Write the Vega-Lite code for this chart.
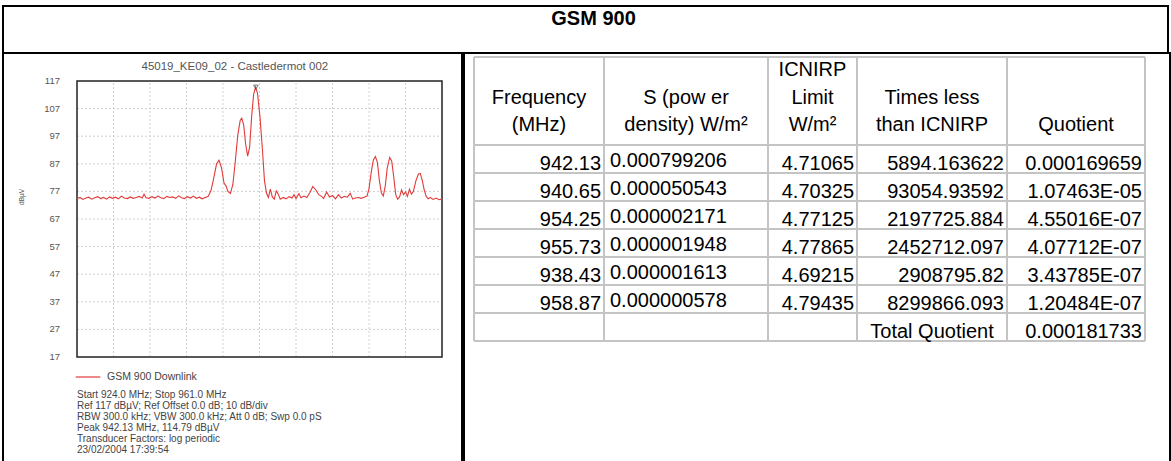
{
  "$schema": "https://vega.github.io/schema/vega-lite/v6.json",
  "background": "white",
  "padding": {"left": 2, "top": 5, "right": 2, "bottom": 0},
  "bounds": "flush",
  "spacing": 0,
  "config": {"view": {"stroke": null}, "font": "Liberation Sans"},
  "datasets": {
    "trace": [
      {"f":924.0,"db":74.3},{"f":924.3,"db":74.8},{"f":924.6,"db":74.1},{"f":924.9,"db":74.6},{"f":925.2,"db":74.9},{"f":925.5,"db":74.2},{"f":925.8,"db":74.7},{"f":926.1,"db":75.1},{"f":926.4,"db":74.4},{"f":926.7,"db":74.8},{"f":927.0,"db":74.2},{"f":927.3,"db":75.0},{"f":927.6,"db":74.5},{"f":927.9,"db":74.9},{"f":928.2,"db":74.3},{"f":928.5,"db":75.3},{"f":928.8,"db":74.6},{"f":929.1,"db":74.4},{"f":929.4,"db":75.0},{"f":929.7,"db":74.5},{"f":930.0,"db":74.8},{"f":930.3,"db":75.2},{"f":930.6,"db":74.6},{"f":930.8,"db":76.0},{"f":931.0,"db":74.7},{"f":931.3,"db":74.5},{"f":931.6,"db":75.1},{"f":931.9,"db":74.6},{"f":932.2,"db":75.3},{"f":932.5,"db":74.7},{"f":932.8,"db":74.4},{"f":933.1,"db":75.2},{"f":933.4,"db":74.8},{"f":933.7,"db":75.0},{"f":934.0,"db":74.5},{"f":934.3,"db":75.4},{"f":934.6,"db":74.7},{"f":934.9,"db":74.4},{"f":935.2,"db":75.1},{"f":935.5,"db":74.6},{"f":935.8,"db":75.3},{"f":936.1,"db":74.5},{"f":936.4,"db":74.9},{"f":936.7,"db":74.3},{"f":937.0,"db":74.8},{"f":937.3,"db":75.2},{"f":937.6,"db":77.5},{"f":937.9,"db":82.5},{"f":938.15,"db":87.0},{"f":938.4,"db":88.3},{"f":938.65,"db":85.5},{"f":938.9,"db":80.0},{"f":939.1,"db":79.0},{"f":939.3,"db":77.0},{"f":939.55,"db":76.2},{"f":939.8,"db":79.5},{"f":940.05,"db":88.0},{"f":940.3,"db":97.5},{"f":940.55,"db":102.8},{"f":940.7,"db":103.5},{"f":940.9,"db":101.0},{"f":941.1,"db":94.0},{"f":941.3,"db":89.8},{"f":941.5,"db":93.0},{"f":941.7,"db":104.0},{"f":941.9,"db":112.0},{"f":942.1,"db":114.8},{"f":942.3,"db":112.5},{"f":942.55,"db":104.0},{"f":942.8,"db":92.0},{"f":943.0,"db":81.0},{"f":943.2,"db":76.5},{"f":943.4,"db":74.8},{"f":943.6,"db":77.8},{"f":943.8,"db":75.0},{"f":944.0,"db":74.2},{"f":944.2,"db":77.2},{"f":944.4,"db":76.0},{"f":944.6,"db":74.2},{"f":944.9,"db":74.8},{"f":945.2,"db":74.3},{"f":945.5,"db":75.1},{"f":945.8,"db":74.6},{"f":946.0,"db":75.8},{"f":946.2,"db":74.4},{"f":946.5,"db":76.2},{"f":946.7,"db":74.7},{"f":947.0,"db":75.3},{"f":947.3,"db":74.8},{"f":947.6,"db":76.5},{"f":947.9,"db":78.8},{"f":948.2,"db":77.6},{"f":948.5,"db":75.8},{"f":948.8,"db":75.2},{"f":949.0,"db":74.4},{"f":949.3,"db":76.8},{"f":949.6,"db":75.0},{"f":949.9,"db":75.5},{"f":950.2,"db":74.3},{"f":950.5,"db":75.8},{"f":950.8,"db":74.6},{"f":951.1,"db":75.2},{"f":951.4,"db":74.9},{"f":951.7,"db":76.3},{"f":951.95,"db":74.2},{"f":952.2,"db":74.6},{"f":952.5,"db":74.8},{"f":952.8,"db":74.5},{"f":953.1,"db":74.9},{"f":953.4,"db":75.3},{"f":953.6,"db":78.0},{"f":953.85,"db":84.5},{"f":954.05,"db":88.5},{"f":954.25,"db":89.6},{"f":954.45,"db":87.5},{"f":954.65,"db":81.0},{"f":954.85,"db":76.5},{"f":955.05,"db":75.3},{"f":955.25,"db":79.0},{"f":955.45,"db":85.5},{"f":955.7,"db":89.3},{"f":955.9,"db":88.0},{"f":956.1,"db":82.5},{"f":956.3,"db":76.0},{"f":956.5,"db":74.2},{"f":956.7,"db":75.0},{"f":956.9,"db":77.5},{"f":957.1,"db":75.8},{"f":957.3,"db":76.8},{"f":957.5,"db":75.2},{"f":957.7,"db":77.8},{"f":957.9,"db":76.0},{"f":958.1,"db":77.0},{"f":958.35,"db":80.8},{"f":958.6,"db":83.2},{"f":958.8,"db":83.5},{"f":959.0,"db":81.0},{"f":959.2,"db":77.5},{"f":959.4,"db":75.2},{"f":959.6,"db":74.3},{"f":959.8,"db":74.8},{"f":960.1,"db":74.1},{"f":960.4,"db":74.6},{"f":960.7,"db":74.0},{"f":961.0,"db":74.3}
    ],
    "ticks": [{"v":17},{"v":27},{"v":37},{"v":47},{"v":57},{"v":67},{"v":77},{"v":87},{"v":97},{"v":107},{"v":117}],
    "table": [
      {"c":0,"slot":1,"t":"Frequency","a":"center"},{"c":0,"slot":2,"t":"(MHz)","a":"center"},
      {"c":1,"slot":1,"t":"S (pow er","a":"center"},{"c":1,"slot":2,"t":"density) W/m²","a":"center"},
      {"c":2,"slot":0,"t":"ICNIRP","a":"center"},{"c":2,"slot":1,"t":"Limit","a":"center"},{"c":2,"slot":2,"t":"W/m²","a":"center"},
      {"c":3,"slot":1,"t":"Times less","a":"center"},{"c":3,"slot":2,"t":"than ICNIRP","a":"center"},
      {"c":4,"slot":2,"t":"Quotient","a":"center"},
      {"c":0,"slot":3,"t":"942.13","a":"right"},{"c":1,"slot":3,"t":"0.000799206","a":"left"},{"c":2,"slot":3,"t":"4.71065","a":"right"},{"c":3,"slot":3,"t":"5894.163622","a":"right"},{"c":4,"slot":3,"t":"0.000169659","a":"right"},
      {"c":0,"slot":4,"t":"940.65","a":"right"},{"c":1,"slot":4,"t":"0.000050543","a":"left"},{"c":2,"slot":4,"t":"4.70325","a":"right"},{"c":3,"slot":4,"t":"93054.93592","a":"right"},{"c":4,"slot":4,"t":"1.07463E-05","a":"right"},
      {"c":0,"slot":5,"t":"954.25","a":"right"},{"c":1,"slot":5,"t":"0.000002171","a":"left"},{"c":2,"slot":5,"t":"4.77125","a":"right"},{"c":3,"slot":5,"t":"2197725.884","a":"right"},{"c":4,"slot":5,"t":"4.55016E-07","a":"right"},
      {"c":0,"slot":6,"t":"955.73","a":"right"},{"c":1,"slot":6,"t":"0.000001948","a":"left"},{"c":2,"slot":6,"t":"4.77865","a":"right"},{"c":3,"slot":6,"t":"2452712.097","a":"right"},{"c":4,"slot":6,"t":"4.07712E-07","a":"right"},
      {"c":0,"slot":7,"t":"938.43","a":"right"},{"c":1,"slot":7,"t":"0.000001613","a":"left"},{"c":2,"slot":7,"t":"4.69215","a":"right"},{"c":3,"slot":7,"t":"2908795.82","a":"right"},{"c":4,"slot":7,"t":"3.43785E-07","a":"right"},
      {"c":0,"slot":8,"t":"958.87","a":"right"},{"c":1,"slot":8,"t":"0.000000578","a":"left"},{"c":2,"slot":8,"t":"4.79435","a":"right"},{"c":3,"slot":8,"t":"8299866.093","a":"right"},{"c":4,"slot":8,"t":"1.20484E-07","a":"right"},
      {"c":3,"slot":9,"t":"Total Quotient","a":"center"},{"c":4,"slot":9,"t":"0.000181733","a":"right"}
    ]
  },
  "vconcat": [
    {
      "width": 1165,
      "height": 47,
      "view": {"stroke": "black", "strokeWidth": 2},
      "data": {"values": [{"label": "GSM 900"}]},
      "mark": {"type": "text", "fontWeight": "bold", "fontSize": 20, "baseline": "middle", "dx": 8, "dy": -11, "color": "black"},
      "encoding": {"text": {"field": "label"}}
    },
    {
      "spacing": 0,
      "hconcat": [
        {
          "width": 459,
          "height": 412,
          "view": {"stroke": "black", "strokeWidth": 2},
          "layer": [
            {
              "data": {"values": [{"g":927.7},{"g":931.4},{"g":935.1},{"g":938.8},{"g":942.5},{"g":946.2},{"g":949.9},{"g":953.6},{"g":957.3}]},
              "mark": {"type": "rule", "stroke": "#d0d0d0", "strokeDash": [2, 2], "strokeWidth": 1},
              "encoding": {
                "x": {"field": "g", "type": "quantitative", "scale": {"domain": [924, 961], "range": [74, 439], "nice": false, "zero": false}, "axis": null},
                "y": {"datum": 17, "scale": {"domain": [17, 117], "range": [304, 28], "nice": false, "zero": false}, "axis": null},
                "y2": {"datum": 117}
              }
            },
            {
              "data": {"name": "ticks"},
              "transform": [{"filter": "datum.v > 17 && datum.v < 117"}],
              "mark": {"type": "rule", "stroke": "#d0d0d0", "strokeDash": [2, 2], "strokeWidth": 1},
              "encoding": {
                "y": {"field": "v", "type": "quantitative", "scale": {"domain": [17, 117], "range": [304, 28], "nice": false, "zero": false}, "axis": null},
                "x": {"datum": 924, "scale": {"domain": [924, 961], "range": [74, 439], "nice": false, "zero": false}, "axis": null},
                "x2": {"datum": 961}
              }
            },
            {
              "data": {"values": [{}]},
              "mark": {"type": "rect", "filled": false, "stroke": "#222", "strokeWidth": 1.5},
              "encoding": {
                "x": {"datum": 924, "scale": {"domain": [924, 961], "range": [74, 439], "nice": false, "zero": false}, "axis": null},
                "x2": {"datum": 961},
                "y": {"datum": 17, "scale": {"domain": [17, 117], "range": [304, 28], "nice": false, "zero": false}, "axis": null},
                "y2": {"datum": 117}
              }
            },
            {
              "data": {"name": "trace"},
              "mark": {"type": "line", "strokeWidth": 1.1},
              "encoding": {
                "x": {"field": "f", "type": "quantitative", "scale": {"domain": [924, 961], "range": [74, 439], "nice": false, "zero": false}, "axis": null},
                "y": {"field": "db", "type": "quantitative", "scale": {"domain": [17, 117], "range": [304, 28], "nice": false, "zero": false}, "axis": null},
                "color": {
                  "datum": "GSM 900 Downlink",
                  "type": "nominal",
                  "scale": {"domain": ["GSM 900 Downlink"], "range": ["#e23a3a"]},
                  "legend": {"orient": "none", "legendX": 72, "legendY": 358, "title": null, "symbolType": "stroke", "symbolSize": 600, "symbolStrokeWidth": 1.2, "labelFontSize": 10.5, "labelColor": "#444", "labelFont": "Liberation Sans", "labelOffset": 6}
                }
              }
            },
            {
              "data": {"values": [{"f": 942.13, "db": 114.79}]},
              "mark": {"type": "point", "shape": "triangle-down", "size": 22, "filled": false, "stroke": "#444", "strokeWidth": 1, "dy": -3},
              "encoding": {
                "x": {"field": "f", "type": "quantitative", "scale": {"domain": [924, 961], "range": [74, 439], "nice": false, "zero": false}, "axis": null},
                "y": {"field": "db", "type": "quantitative", "scale": {"domain": [17, 117], "range": [304, 28], "nice": false, "zero": false}, "axis": null}
              }
            },
            {
              "data": {"name": "ticks"},
              "mark": {"type": "text", "align": "right", "baseline": "middle", "dx": -17, "fontSize": 9.5, "color": "#555"},
              "encoding": {
                "text": {"field": "v"},
                "x": {"datum": 924, "scale": {"domain": [924, 961], "range": [74, 439], "nice": false, "zero": false}, "axis": null},
                "y": {"field": "v", "type": "quantitative", "scale": {"domain": [17, 117], "range": [304, 28], "nice": false, "zero": false}, "axis": null}
              }
            },
            {
              "data": {"values": [{}]},
              "mark": {"type": "text", "text": "dBµV", "angle": 270, "align": "center", "baseline": "middle", "fontSize": 6.5, "color": "#555"},
              "encoding": {
                "x": {"datum": 918.4, "scale": {"domain": [924, 961], "range": [74, 439], "nice": false, "zero": false}, "axis": null},
                "y": {"datum": 75, "scale": {"domain": [17, 117], "range": [304, 28], "nice": false, "zero": false}, "axis": null}
              }
            },
            {
              "data": {"values": [{}]},
              "mark": {"type": "text", "text": "45019_KE09_02 - Castledermot 002", "align": "center", "baseline": "middle", "fontSize": 11.5, "color": "#555"},
              "encoding": {
                "x": {"datum": 940, "scale": {"domain": [924, 961], "range": [74, 439], "nice": false, "zero": false}, "axis": null},
                "y": {"datum": 122, "scale": {"domain": [17, 117], "range": [304, 28], "nice": false, "zero": false}, "axis": null}
              }
            },
            {
              "data": {"values": [{}]},
              "mark": {
                "type": "text",
                "text": ["Start 924.0 MHz; Stop 961.0 MHz", "Ref 117 dBµV; Ref Offset 0.0 dB; 10 dB/div", "RBW 300.0 kHz; VBW 300.0 kHz; Att 0 dB; Swp 0.0 pS", "Peak 942.13 MHz, 114.79 dBµV", "Transducer Factors: log periodic", "23/02/2004 17:39:54"],
                "align": "left", "baseline": "top", "lineHeight": 11, "fontSize": 10, "color": "#444"
              },
              "encoding": {
                "x": {"datum": 924, "scale": {"domain": [924, 961], "range": [74, 439], "nice": false, "zero": false}, "axis": null},
                "y": {"datum": 5.0, "scale": {"domain": [17, 117], "range": [304, 28], "nice": false, "zero": false}, "axis": null}
              }
            }
          ]
        },
        {
          "width": 706,
          "height": 412,
          "view": {"stroke": "black", "strokeWidth": 2},
          "resolve": {"scale": {"x": "independent", "y": "independent"}},
          "layer": [
            {
              "data": {"values": [{"e":0},{"e":1},{"e":2},{"e":3},{"e":4},{"e":5}]},
              "mark": {"type": "rule", "stroke": "#c4c4c4", "strokeWidth": 2},
              "encoding": {
                "x": {"field": "e", "type": "quantitative", "scale": {"domain": [0,1,2,3,4,5], "range": [10,140,304,393,543,681], "nice": false, "zero": false}, "axis": null},
                "y": {"datum": 0, "scale": {"domain": [0,3,10], "range": [4,92,288], "nice": false, "zero": false}, "axis": null},
                "y2": {"datum": 10}
              }
            },
            {
              "data": {"values": [{"r":0},{"r":3},{"r":4},{"r":5},{"r":6},{"r":7},{"r":8},{"r":9},{"r":10}]},
              "mark": {"type": "rule", "stroke": "#c4c4c4", "strokeWidth": 2},
              "encoding": {
                "y": {"field": "r", "type": "quantitative", "scale": {"domain": [0,3,10], "range": [4,92,288], "nice": false, "zero": false}, "axis": null},
                "x": {"datum": 0, "scale": {"domain": [0,1,2,3,4,5], "range": [10,140,304,393,543,681], "nice": false, "zero": false}, "axis": null},
                "x2": {"datum": 5}
              }
            },
            {
              "data": {"name": "table"},
              "transform": [{"filter": "datum.a == 'right'"}],
              "mark": {"type": "text", "align": "right", "baseline": "middle", "fontSize": 20, "color": "black"},
              "encoding": {
                "text": {"field": "t"},
                "x": {"field": "c", "type": "quantitative", "scale": {"domain": [0,1,2,3,4], "range": [137,301,390,540,678], "nice": false, "zero": false}, "axis": null},
                "y": {"field": "slot", "type": "quantitative", "scale": {"domain": [0,2,3,9], "range": [17,72,111,279], "nice": false, "zero": false}, "axis": null}
              }
            },
            {
              "data": {"name": "table"},
              "transform": [{"filter": "datum.a == 'left'"}],
              "mark": {"type": "text", "align": "left", "baseline": "middle", "fontSize": 20, "color": "black", "dy": -3},
              "encoding": {
                "text": {"field": "t"},
                "x": {"field": "c", "type": "quantitative", "scale": {"domain": [0,1,2,3,4], "range": [15,146,309,399,549], "nice": false, "zero": false}, "axis": null},
                "y": {"field": "slot", "type": "quantitative", "scale": {"domain": [0,2,3,9], "range": [17,72,111,279], "nice": false, "zero": false}, "axis": null}
              }
            },
            {
              "data": {"name": "table"},
              "transform": [{"filter": "datum.a == 'center'"}],
              "mark": {"type": "text", "align": "center", "baseline": "middle", "fontSize": 20, "color": "black"},
              "encoding": {
                "text": {"field": "t"},
                "x": {"field": "c", "type": "quantitative", "scale": {"domain": [0,1,2,3,4], "range": [75,222,348.5,468,612], "nice": false, "zero": false}, "axis": null},
                "y": {"field": "slot", "type": "quantitative", "scale": {"domain": [0,2,3,9], "range": [17,72,111,279], "nice": false, "zero": false}, "axis": null}
              }
            }
          ]
        }
      ]
    }
  ]
}
